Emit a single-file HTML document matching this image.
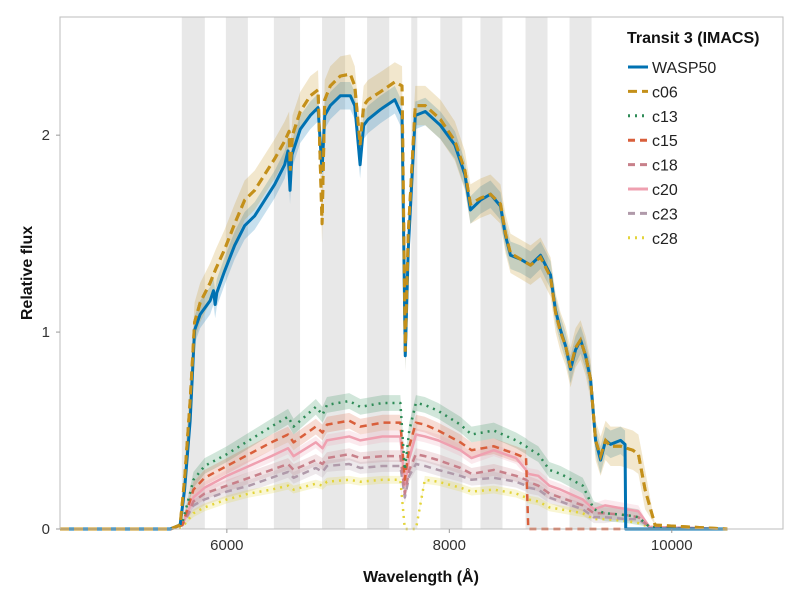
<!DOCTYPE html>
<html><head><meta charset="utf-8"><style>
body{margin:0;background:#fff;}
svg text{font-family:"Liberation Sans",sans-serif;}
</style></head><body>
<svg id="chart" width="800" height="600" xmlns="http://www.w3.org/2000/svg"></svg>
<script>
const bandStarts=[5595,5991,6423,6856,7261,7658,7919,8280,8685,9081];
const bandEnds=[5802,6189,6658,7063,7460,7712,8117,8478,8883,9279];
const xTicks=[6000,8000,10000];
const yTicks=[0,1,2];
const wWl=[4500,5490,5580,5620,5670,5710,5760,5850,5880,5895,5910,5980,6070,6160,6250,6340,6430,6520,6550,6568,6585,6660,6750,6820,6856,6880,6930,7020,7110,7150,7198,7230,7270,7380,7510,7575,7604,7631,7694,7784,7920,8050,8140,8190,8280,8370,8460,8505,8550,8640,8730,8820,8910,8955,9000,9045,9090,9135,9180,9225,9270,9315,9360,9405,9450,9540,9580,9586,9630,10500];
const wasp50=[0,0,0.02,0.2,0.55,1.01,1.09,1.16,1.21,1.14,1.2,1.31,1.44,1.54,1.59,1.67,1.75,1.85,1.92,1.72,1.9,2.03,2.10,2.14,1.82,2.1,2.15,2.20,2.20,2.15,1.85,2.05,2.08,2.13,2.18,2.10,0.88,1.42,2.10,2.12,2.05,1.95,1.80,1.62,1.67,1.70,1.64,1.49,1.39,1.37,1.34,1.39,1.29,1.11,1.01,0.93,0.81,0.91,0.96,0.88,0.76,0.45,0.35,0.45,0.43,0.45,0.43,0,0,0];
const c06Wl=[4500,5490,5580,5620,5670,5710,5760,5850,5900,5980,6070,6160,6250,6340,6430,6520,6560,6570,6590,6660,6750,6820,6856,6880,6930,7020,7110,7150,7198,7230,7270,7380,7510,7575,7604,7631,7694,7784,7920,8050,8140,8190,8280,8370,8460,8505,8550,8640,8730,8820,8910,8955,9000,9045,9090,9135,9180,9225,9270,9315,9360,9405,9450,9540,9650,9700,9760,9850,10500];
const c06=[0,0,0.02,0.25,0.65,1.05,1.15,1.25,1.32,1.42,1.55,1.67,1.72,1.80,1.88,1.97,2.02,1.82,2.0,2.12,2.20,2.23,1.55,2.18,2.25,2.30,2.31,2.25,1.95,2.15,2.18,2.22,2.27,2.25,0.9,1.5,2.15,2.15,2.08,1.97,1.82,1.65,1.68,1.70,1.65,1.5,1.4,1.37,1.34,1.38,1.28,1.1,1.0,0.93,0.82,0.92,0.96,0.88,0.76,0.45,0.37,0.45,0.42,0.42,0.4,0.38,0.2,0.02,0];
const compWl=[4500,5500,5600,5700,5800,5900,6000,6200,6400,6550,6600,6800,6860,6900,7100,7200,7400,7560,7600,7640,7700,7780,7900,8100,8200,8400,8600,8690,8710,8800,8900,9000,9200,9300,9400,9600,9700,9800,10500];
const c13=[0,0,0.03,0.25,0.32,0.35,0.38,0.45,0.52,0.57,0.52,0.62,0.58,0.63,0.65,0.62,0.64,0.64,0.3,0.5,0.64,0.63,0.6,0.53,0.48,0.5,0.45,0.42,0.41,0.38,0.3,0.28,0.22,0.1,0.08,0.07,0.06,0.01,0];
const c15=[0,0,0.02,0.2,0.26,0.29,0.32,0.38,0.44,0.48,0.44,0.52,0.49,0.53,0.55,0.52,0.54,0.54,0.25,0.42,0.54,0.53,0.5,0.44,0.4,0.42,0.38,0.36,0,0,0,0,0,0,0,0,0,0,0];
const c18=[0,0,0.02,0.14,0.18,0.2,0.22,0.26,0.3,0.33,0.3,0.35,0.33,0.36,0.38,0.36,0.37,0.37,0.18,0.3,0.38,0.37,0.35,0.31,0.28,0.3,0.27,0.25,0.24,0.22,0.18,0.16,0.12,0.08,0.08,0.07,0.06,0.01,0];
const c20=[0,0,0.02,0.16,0.21,0.24,0.27,0.32,0.37,0.41,0.37,0.44,0.41,0.45,0.47,0.45,0.47,0.47,0.22,0.36,0.48,0.47,0.45,0.4,0.36,0.4,0.36,0.3,0.28,0.27,0.22,0.2,0.15,0.1,0.12,0.1,0.09,0.01,0];
const c23=[0,0,0.02,0.12,0.15,0.17,0.19,0.22,0.26,0.29,0.26,0.31,0.29,0.32,0.33,0.31,0.32,0.32,0.16,0.27,0.33,0.32,0.3,0.27,0.25,0.26,0.24,0.22,0.21,0.2,0.16,0.14,0.1,0.06,0.06,0.05,0.05,0.01,0];
const c28=[0,0,0.01,0.08,0.11,0.13,0.15,0.18,0.2,0.22,0.2,0.23,0.22,0.24,0.25,0.24,0.25,0.25,0,0,0,0.25,0.24,0.21,0.19,0.2,0.18,0.16,0.15,0.14,0.11,0.1,0.08,0.05,0.05,0.04,0.03,0.01,0];
const seriesNames=["WASP50","c06","c13","c15","c18","c20","c23","c28"];

const L=60,R=783,T=17,B=529,XMIN=4500,XMAX=11000,YMIN=0,YMAX=2.6;
const X=v=>L+(v-XMIN)/(XMAX-XMIN)*(R-L);
const Y=v=>B-(v-YMIN)/(YMAX-YMIN)*(B-T);
const svg=document.getElementById('chart');
const NS='http://www.w3.org/2000/svg';
function mk(tag,attrs,parent){const e=document.createElementNS(NS,tag);for(const k in attrs)e.setAttribute(k,attrs[k]);(parent||svg).appendChild(e);return e;}

for(let i=0;i<bandStarts.length;i++){
  const r=mk('rect',{x:X(bandStarts[i]),y:T,width:X(bandEnds[i])-X(bandStarts[i]),height:B-T,fill:'#e8e8e8'});
  
  
}
const specs=[
 {wl:wWl,v:wasp50,c:'#0072B2',dash:'',w:3,err:0.07},
 {wl:c06Wl,v:c06,c:'#C4901A',dash:'9,5',w:3,err:0.1},
 {wl:compWl,v:c13,c:'#2E8B57',dash:'2,5',w:2.5,err:0.04},
 {wl:compWl,v:c15,c:'#D95F3B',dash:'7,5',w:2.5,err:0.04},
 {wl:compWl,v:c18,c:'#C8808A',dash:'7,5',w:2.5,err:0.03},
 {wl:compWl,v:c20,c:'#EFA0B0',dash:'',w:2.5,err:0.03},
 {wl:compWl,v:c23,c:'#B09AAA',dash:'7,5',w:2.5,err:0.03},
 {wl:compWl,v:c28,c:'#E3D43A',dash:'2,5',w:2.5,err:0.02}
];
specs.forEach((s,i)=>{
  let up='',dn='';
  s.wl.forEach((w,j)=>{const e=s.v[j]>0.05?s.err:0;up+=(j?'L':'M')+X(w)+','+Y(s.v[j]+e);});
  for(let j=s.wl.length-1;j>=0;j--){const e=s.v[j]>0.05?s.err:0;dn+='L'+X(s.wl[j])+','+Y(Math.max(0,s.v[j]-e));}
  const band=mk('path',{d:up+dn+'Z',fill:s.c,'fill-opacity':0.22,stroke:'none'});
  
  
});
specs.slice().reverse().forEach((s,ri)=>{
  const i=specs.length-1-ri;
  const d=s.wl.map((w,j)=>(j?'L':'M')+X(w)+','+Y(s.v[j])).join('');
  const p=mk('path',{d:d,fill:'none',stroke:s.c,'stroke-width':s.w,'stroke-dasharray':s.dash,'stroke-linejoin':'round'});
  
  
});
// re-draw c06 on top of WASP50 for the big pair
{
  const s=specs[1];
  const d=s.wl.map((w,j)=>(j?'L':'M')+X(w)+','+Y(s.v[j])).join('');
  const p=mk('path',{d:d,fill:'none',stroke:s.c,'stroke-width':s.w,'stroke-dasharray':s.dash});
  
  
}
const frame=mk('rect',{x:L,y:T,width:R-L,height:B-T,fill:'none',stroke:'#bdbdbd','stroke-width':1});


xTicks.forEach(t=>{
  const tk=mk('line',{x1:X(t),x2:X(t),y1:B,y2:B+4,stroke:'#999'});
  
  
  const tx=mk('text',{x:X(t),y:B+21,'text-anchor':'middle','font-size':15,fill:'#333'});
  tx.textContent=t;
  
  
});
yTicks.forEach(t=>{
  const tk=mk('line',{x1:L-4,x2:L,y1:Y(t),y2:Y(t),stroke:'#999'});
  
  
  const tx=mk('text',{x:L-10,y:Y(t)+5,'text-anchor':'end','font-size':15,fill:'#333'});
  tx.textContent=t;
  
  
});
const xt=mk('text',{x:421,y:582,'text-anchor':'middle','font-size':16,'font-weight':'bold',fill:'#111'});
xt.textContent='Wavelength (Å)';


const yt=mk('text',{x:0,y:0,'text-anchor':'middle','font-size':16,'font-weight':'bold',fill:'#111',transform:'translate(32,273) rotate(-90)'});
yt.textContent='Relative flux';


const lg=mk('g',{});


const lt=mk('text',{x:627,y:43,'font-size':16,'font-weight':'bold',fill:'#111'},lg);
lt.textContent='Transit 3 (IMACS)';


specs.forEach((s,i)=>{
  const y=67+i*24.4;
  const ln=mk('line',{x1:628,x2:648,y1:y,y2:y,stroke:s.c,'stroke-width':3,'stroke-dasharray':s.dash},lg);
  
  
  const tx=mk('text',{x:652,y:y+6,'font-size':16,fill:'#222'},lg);
  tx.textContent=seriesNames[i];
  
  
});
</script>
</body></html>
